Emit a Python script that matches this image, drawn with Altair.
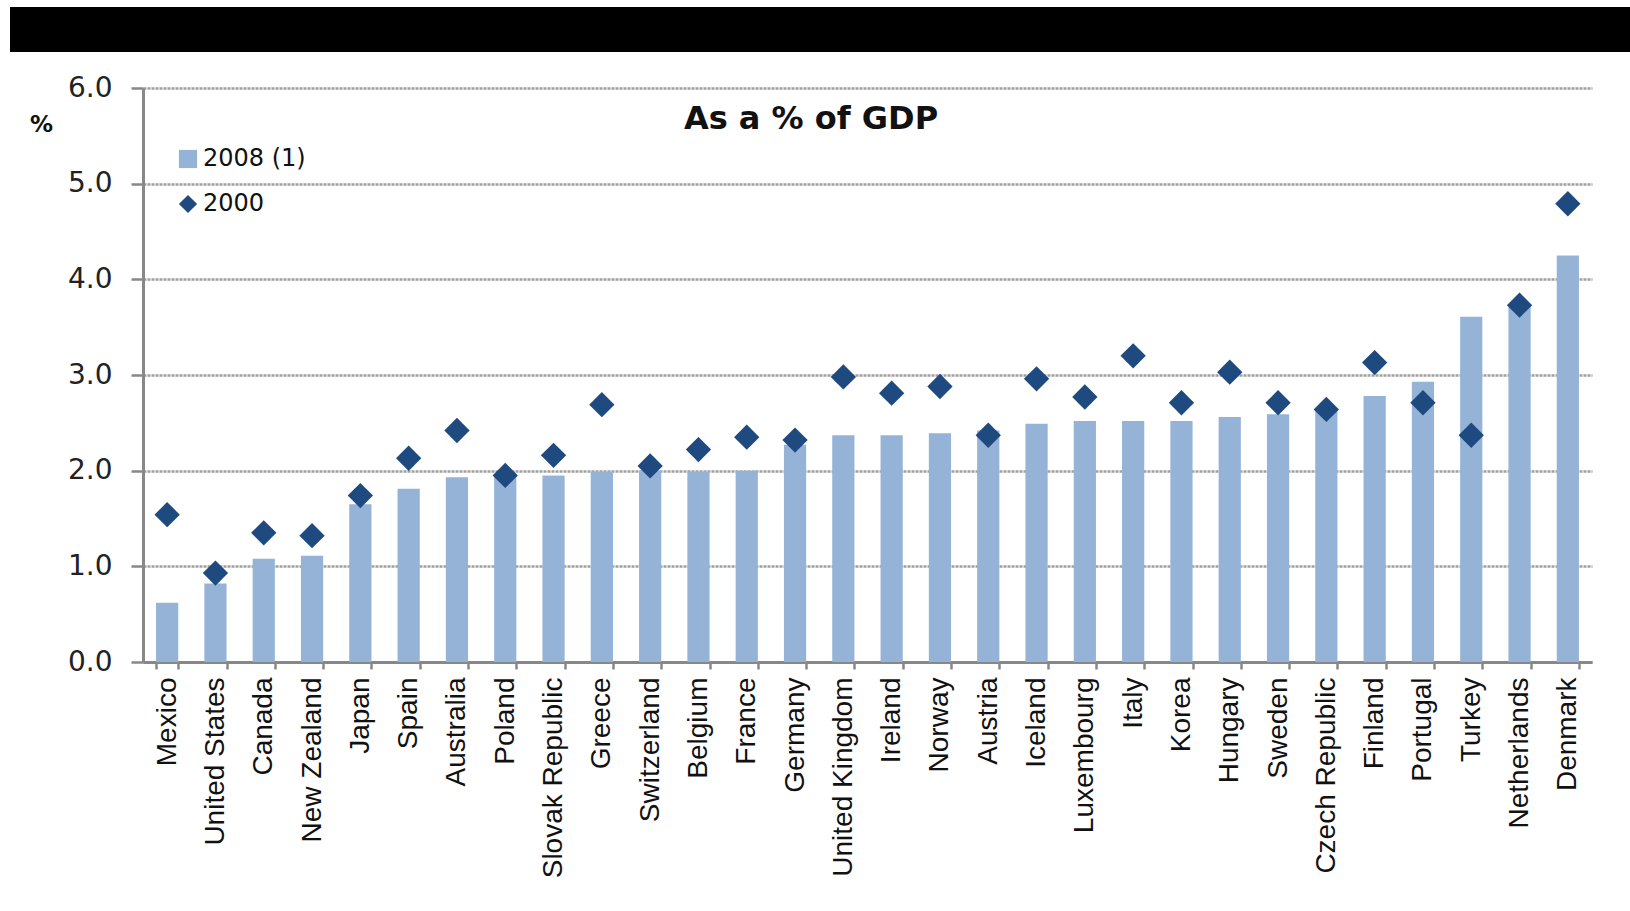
import altair as alt
import pandas as pd

countries = ["Mexico", "United States", "Canada", "New Zealand", "Japan", "Spain",
             "Australia", "Poland", "Slovak Republic", "Greece", "Switzerland",
             "Belgium", "France", "Germany", "United Kingdom", "Ireland", "Norway",
             "Austria", "Iceland", "Luxembourg", "Italy", "Korea", "Hungary",
             "Sweden", "Czech Republic", "Finland", "Portugal", "Turkey",
             "Netherlands", "Denmark"]
v2008 = [0.62, 0.82, 1.08, 1.11, 1.65, 1.81, 1.93, 1.96, 1.95, 1.99, 2.00, 1.99,
         2.00, 2.27, 2.37, 2.37, 2.39, 2.42, 2.49, 2.52, 2.52, 2.52, 2.56, 2.59,
         2.65, 2.78, 2.93, 3.61, 3.72, 4.25]
v2000 = [1.54, 0.93, 1.35, 1.32, 1.74, 2.13, 2.42, 1.95, 2.16, 2.69, 2.05, 2.22,
         2.35, 2.32, 2.98, 2.81, 2.88, 2.37, 2.96, 2.77, 3.20, 2.71, 3.03, 2.71,
         2.64, 3.13, 2.71, 2.37, 3.73, 4.79]
series_names = ["2008 (1)", "2000"]
y_ticks = [0, 1, 2, 3, 4, 5, 6]
title_text = "As a % of GDP"

df = pd.DataFrame({"country": countries, "v2008": v2008, "v2000": v2000})

BAR = "#95B3D7"
DIA = "#1F4A80"

color_scale = alt.Scale(domain=series_names, range=[BAR, DIA])
shape_scale = alt.Scale(domain=series_names, range=["square", "diamond"])

legend = alt.Legend(
    title=None, orient="none", legendX=33, legendY=59, padding=0,
    labelFont="DejaVu Sans", labelFontSize=24, labelColor="#111111",
    symbolSize=330, symbolStrokeWidth=0, rowPadding=21, labelOffset=3,
    symbolOpacity=1,
)

x_enc = alt.X("country:N", sort=countries, title=None,
              scale=alt.Scale(paddingInner=0.54, paddingOuter=0.27),
              axis=alt.Axis(labelAngle=-90, labelFont="Liberation Sans",
                            labelFontSize=28, labelColor="#111111",
                            labelPadding=8, tickSize=7, tickBand="extent",
                            domainColor="#888888", domainWidth=3,
                            tickColor="#888888", tickWidth=2.5, grid=False,
                            labelLimit=400))

y_enc_scale = alt.Scale(domain=[0, 6], nice=False)
y_axis = alt.Axis(values=y_ticks, format=".1f", title="%", titleAngle=0,
                  titleFont="DejaVu Sans", titleFontSize=23, titleFontWeight="bold",
                  titleColor="#111111", titleX=-102, titleY=43, titleAlign="center",
                  titleBaseline="alphabetic",
                  labelFont="DejaVu Sans", labelFontSize=28, labelColor="#222222",
                  labelPadding=19, tickSize=12, tickColor="#888888", tickWidth=2.5,
                  domainColor="#888888", domainWidth=3,
                  grid=True, gridColor="#a0a0a0", gridWidth=2.5, gridDash=[3, 1])

bars = alt.Chart(df).transform_calculate(series="'2008 (1)'").mark_bar().encode(
    x=x_enc,
    y=alt.Y("v2008:Q", scale=y_enc_scale, axis=y_axis),
    color=alt.Color("series:N", scale=color_scale, legend=legend),
)

points = alt.Chart(df).transform_calculate(series="'2000'").mark_point(
    filled=True, size=640, opacity=1
).encode(
    x=alt.X("country:N", sort=countries),
    y=alt.Y("v2000:Q", scale=y_enc_scale),
    color=alt.Color("series:N", scale=color_scale, legend=legend),
    shape=alt.Shape("series:N", scale=shape_scale, legend=legend),
)

title = alt.Chart(pd.DataFrame({"t": [title_text]})).mark_text(
    font="DejaVu Sans", fontSize=32, fontWeight="bold", color="#111111",
    align="center", baseline="alphabetic"
).encode(text="t:N", x=alt.value(668), y=alt.value(41))

black = alt.Chart(pd.DataFrame({"k": [0]})).mark_rect(color="#000000").encode(
    x=alt.value(-133), x2=alt.value(1487), y=alt.value(-81), y2=alt.value(-36)
)

chart = alt.layer(bars, points, title, black).properties(
    width=1449, height=574,
    autosize=alt.AutoSizeParams(type="none"),
    padding={"left": 143, "top": 88, "right": 38, "bottom": 249},
    background="white",
).configure_view(stroke=None)

chart.save("out.html", embed_options={"renderer": "svg", "actions": False})
